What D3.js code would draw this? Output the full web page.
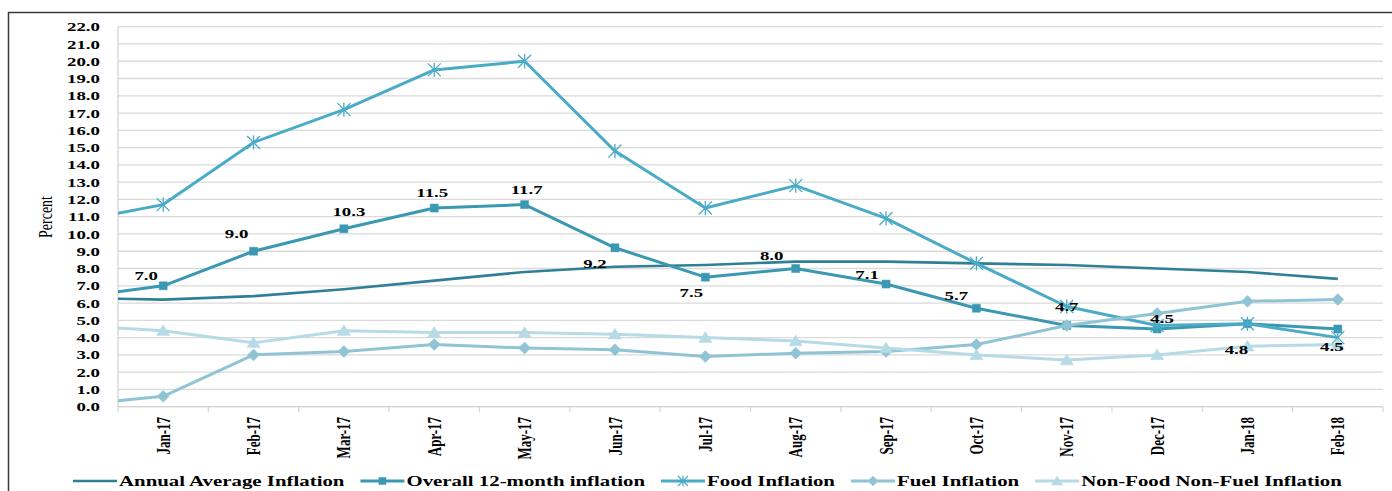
<!DOCTYPE html>
<html>
<head>
<meta charset="utf-8">
<script src="https://cdn.jsdelivr.net/npm/d3@7"></script>
<style>
  html, body { margin: 0; padding: 0; background: #fff; }
  svg text { font-family: "Liberation Serif", "Times New Roman", serif; }
</style>
</head>
<body>
<svg id="chart"></svg>
<script>
// first month sits one band left of the plot and is clipped away (lines enter from the edge)
const months = ["Dec-16", "Jan-17", "Feb-17", "Mar-17", "Apr-17", "May-17", "Jun-17", "Jul-17",
                "Aug-17", "Sep-17", "Oct-17", "Nov-17", "Dec-17", "Jan-18", "Feb-18"]

const annualAverage = [6.3, 6.2, 6.4, 6.8, 7.3, 7.8, 8.1, 8.2, 8.4, 8.4, 8.3, 8.2, 8.0, 7.8, 7.4]
const overall12m    = [6.3, 7.0, 9.0, 10.3, 11.5, 11.7, 9.2, 7.5, 8.0, 7.1, 5.7, 4.7, 4.5, 4.8, 4.5]
const foodInfl      = [10.7, 11.7, 15.3, 17.2, 19.5, 20.0, 14.8, 11.5, 12.8, 10.9, 8.3, 5.8, 4.7, 4.8, 4.0]
const fuelInfl      = [0.1, 0.6, 3.0, 3.2, 3.6, 3.4, 3.3, 2.9, 3.1, 3.2, 3.6, 4.7, 5.4, 6.1, 6.2]
const nonFoodFuel   = [4.7, 4.4, 3.7, 4.4, 4.3, 4.3, 4.2, 4.0, 3.8, 3.4, 3.0, 2.7, 3.0, 3.5, 3.6]

const yTicks = d3.range(0, 23, 1)

// label nudges (px) for the overall 12-month data labels, Jan-17 .. Feb-18
const labelNudge = [[-17, -10], [-17, -18], [5, -17], [-2, -16], [2, -15], [-20, 16], [-14, 15],
                    [-24, -13], [-19, -10], [-20, -13], [0, -19], [5, -11], [-11, 26], [-6, 17]]

const series = [
    {name: "Annual Average Inflation", values: annualAverage, color: "#2f7f96", width: 2.6, marker: null},
    {name: "Overall 12-month inflation", values: overall12m, color: "#3b98b2", width: 3, marker: "square"},
    {name: "Food Inflation", values: foodInfl, color: "#4aabc7", width: 3, marker: "star"},
    {name: "Fuel Inflation", values: fuelInfl, color: "#90c4d5", width: 3, marker: "diamond"},
    {name: "Non-Food Non-Fuel Inflation", values: nonFoodFuel, color: "#b6dbe6", width: 3, marker: "triangle"}
]

let width = 1392, height = 491
let plot = {left: 118, right: 1383, top: 26.7, bottom: 406.7}
let stretch = 1.45   // the reference text is widened horizontally

let svg = d3.select("#chart").attr("width", width).attr("height", height)

// frame
svg.append("path")
    .attr("d", `M8.5,${height} L8.5,12.5 L${width},12.5`)
    .attr("fill", "none").attr("stroke", "#3a3a3a").attr("stroke-width", 1.5)

let step = (plot.right - plot.left) / (months.length - 1)
let x = d3.scaleBand().domain(months).range([plot.left - step, plot.right])
let cx = m => x(m) + x.bandwidth() / 2
let y = d3.scaleLinear().domain([0, 22]).range([plot.bottom, plot.top])

// gridlines
svg.append("g").selectAll("line")
    .data(yTicks)
    .join("line")
        .attr("x1", plot.left).attr("x2", plot.right)
        .attr("y1", d => y(d)).attr("y2", d => y(d))
        .attr("stroke", "#dadada").attr("stroke-width", 1.3)

// axis lines + ticks
svg.append("line").attr("x1", plot.left).attr("x2", plot.left)
    .attr("y1", plot.top).attr("y2", plot.bottom)
    .attr("stroke", "#d4d4d4").attr("stroke-width", 1.3)
svg.append("line").attr("x1", plot.left).attr("x2", plot.right)
    .attr("y1", plot.bottom).attr("y2", plot.bottom)
    .attr("stroke", "#d4d4d4").attr("stroke-width", 1.3)
svg.append("g").selectAll("line")
    .data(months)
    .join("line")
        .attr("x1", d => x(d) + x.bandwidth()).attr("x2", d => x(d) + x.bandwidth())
        .attr("y1", plot.bottom).attr("y2", plot.bottom + 5)
        .attr("stroke", "#d4d4d4").attr("stroke-width", 1.2)

// y tick labels
svg.append("g").selectAll("text")
    .data(yTicks)
    .join("text")
        .attr("transform", d => `translate(100,${y(d)}) scale(${stretch},1)`)
        .attr("text-anchor", "end")
        .attr("dy", "0.35em")
        .attr("font-size", 13).attr("font-weight", "bold")
        .text(d => d3.format(".1f")(d))

// x tick labels (rotated)
svg.append("g").selectAll("text")
    .data(months.slice(1))
    .join("text")
        .attr("transform", d => `translate(${cx(d)},417) scale(${stretch},1) rotate(-90)`)
        .attr("text-anchor", "end")
        .attr("dy", "0.35em")
        .attr("font-size", 13).attr("font-weight", "bold")
        .text(d => d)

// axis title
svg.append("text")
    .attr("transform", `translate(46,217) scale(1.3,1) rotate(-90)`)
    .attr("text-anchor", "middle")
    .attr("dy", "0.35em")
    .attr("font-size", 14)
    .text("Percent")

// clip so the Dec-16 segment only enters from the left edge
svg.append("clipPath").attr("id", "plotclip")
    .append("rect")
        .attr("x", plot.left).attr("y", 0)
        .attr("width", plot.right - plot.left).attr("height", height)

let plot_g = svg.append("g").attr("clip-path", "url(#plotclip)")

let line = d3.line()
    .x(d => cx(d.m))
    .y(d => y(d.v))

function markerPath(kind, s) {
    if (kind === "square") return `M${-s},${-s}H${s}V${s}H${-s}Z`
    if (kind === "diamond") return `M0,${-s}L${s},0L0,${s}L${-s},0Z`
    if (kind === "triangle") return `M0,${-s}L${s * 1.1},${s * 0.8}L${-s * 1.1},${s * 0.8}Z`
    if (kind === "star") return `M${-s},${-s}L${s},${s}M${-s},${s}L${s},${-s}M0,${-s * 1.1}L0,${s * 1.1}`
    return ""
}
let markerSize = {square: 4, diamond: 6, triangle: 6, star: 6.5}

series.forEach(s => {
    let pts = s.values.map((v, i) => ({m: months[i], v: v}))
    plot_g.append("path")
        .datum(pts)
        .attr("d", line)
        .attr("fill", "none")
        .attr("stroke", s.color)
        .attr("stroke-width", s.width)
        .attr("stroke-linejoin", "round")

    if (s.marker) {
        plot_g.append("g").selectAll("path")
            .data(pts.slice(1))
            .join("path")
                .attr("transform", d => `translate(${cx(d.m)},${y(d.v)})`)
                .attr("d", markerPath(s.marker, markerSize[s.marker]))
                .attr("fill", s.marker === "star" ? "none" : s.color)
                .attr("stroke", s.color)
                .attr("stroke-width", s.marker === "star" ? 1.3 : 0.5)
    }
})

// data labels on the overall 12-month series
svg.append("g").selectAll("text")
    .data(overall12m.slice(1))
    .join("text")
        .attr("transform", (d, i) => {
            let m = months[i + 1]
            return `translate(${cx(m) + labelNudge[i][0]},${y(d) + labelNudge[i][1]}) scale(${stretch},1)`
        })
        .attr("text-anchor", "middle")
        .attr("dy", "0.35em")
        .attr("font-size", 13).attr("font-weight", "bold")
        .attr("fill", "#000")
        .text(d => d3.format(".1f")(d))

// legend
let legend_g = svg.append("g")
let lx = 73, ly = 481
let legendStretch = 1.49
series.forEach(s => {
    legend_g.append("line")
        .attr("x1", lx).attr("x2", lx + 44)
        .attr("y1", ly).attr("y2", ly)
        .attr("stroke", s.color).attr("stroke-width", s.width)
    if (s.marker) {
        legend_g.append("path")
            .attr("transform", `translate(${lx + 22},${ly})`)
            .attr("d", markerPath(s.marker, s.marker === "square" ? 3.5 : 5))
            .attr("fill", s.marker === "star" ? "none" : s.color)
            .attr("stroke", s.color)
            .attr("stroke-width", s.marker === "star" ? 1.2 : 0.5)
    }
    let t = legend_g.append("text")
        .attr("transform", `translate(${lx + 46},${ly}) scale(${legendStretch},1)`)
        .attr("dy", "0.35em")
        .attr("font-size", 14).attr("font-weight", "bold")
        .text(s.name)
    lx += 46 + t.node().getComputedTextLength() * legendStretch + 16
})
</script>
</body>
</html>
